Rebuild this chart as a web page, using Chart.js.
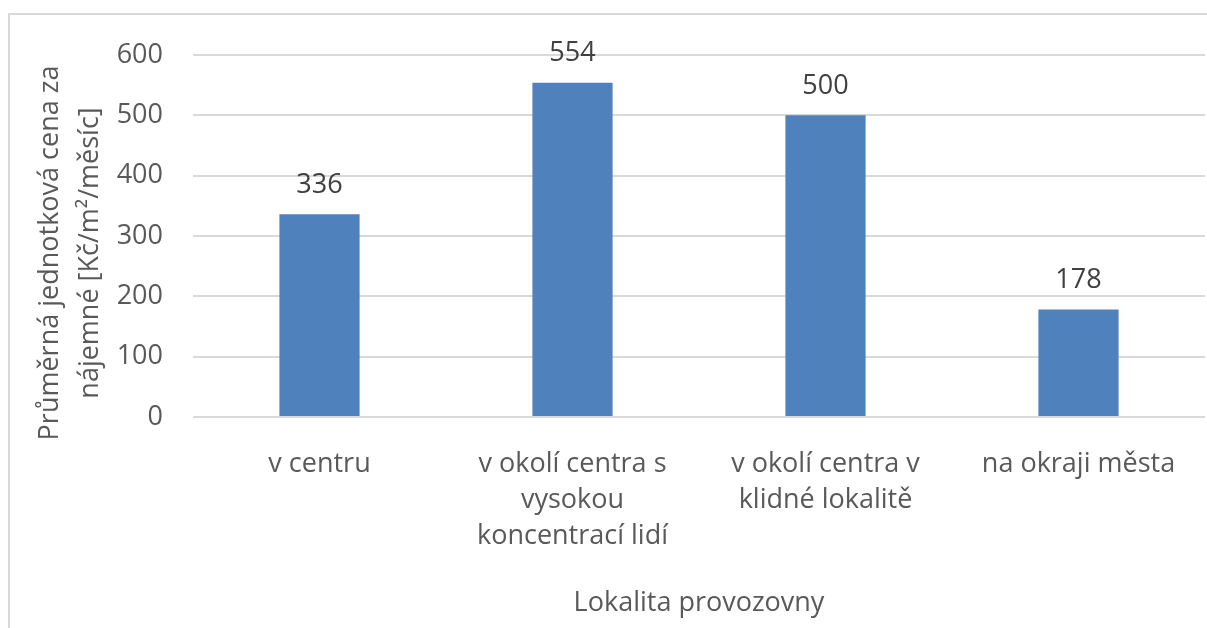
<!DOCTYPE html>
<html>
<head>
<meta charset="utf-8">
<script src="https://cdn.jsdelivr.net/npm/chart.js@4.4.0/dist/chart.umd.min.js"></script>
<style>
  html, body { margin: 0; padding: 0; background: #fff; }
  #wrap { width: 1207px; height: 628px; position: relative; }
</style>
</head>
<body>
<div id="wrap"><canvas id="chart"></canvas></div>
<script>
  const categories = [
    'v centru',
    ['v okolí centra s', 'vysokou', 'koncentrací lidí'],
    ['v okolí centra v', 'klidné lokalitě'],
    'na okraji města'
  ];
  const rentValues = [336, 554, 500, 178];
  const yTickValues = [0, 100, 200, 300, 400, 500, 600];
  const yTitle = ['Průměrná jednotková cena za', 'nájemné [Kč/m²/měsíc]'];
  const xTitle = 'Lokalita provozovny';

  const FONT = "'Open Sans', sans-serif";
  const TEXT = '#595959';

  // thin grey frame, only left/top edges show
  const framePlugin = {
    id: 'frame',
    beforeDraw(chart) {
      const c = chart.ctx;
      c.save();
      c.strokeStyle = '#d9d9d9';
      c.lineWidth = 2;
      c.strokeRect(9, 14, 1400, 1000);
      c.restore();
    }
  };

  // y title sits a bit lower than the plot centre, so draw it by hand
  const yTitlePlugin = {
    id: 'yTitle',
    afterDraw(chart) {
      const c = chart.ctx;
      const area = chart.chartArea;
      const cy = (area.top + area.bottom) / 2 + 17;
      c.save();
      c.font = '27px ' + FONT;
      c.fillStyle = TEXT;
      c.textAlign = 'center';
      c.textBaseline = 'middle';
      c.translate(50, cy);
      c.rotate(-Math.PI / 2);
      yTitle.forEach((line, i) => c.fillText(line, 0, i * 40));
      c.restore();
    }
  };

  const valueLabels = {
    id: 'valueLabels',
    afterDatasetsDraw(chart) {
      const c = chart.ctx;
      const meta = chart.getDatasetMeta(0);
      c.save();
      c.font = '27px ' + FONT;
      c.fillStyle = '#404040';
      c.textAlign = 'center';
      c.textBaseline = 'middle';
      meta.data.forEach((bar, i) => {
        c.fillText(String(rentValues[i]), bar.x, bar.y - 29);
      });
      c.restore();
    }
  };

  new Chart(document.getElementById('chart'), {
    type: 'bar',
    data: {
      labels: categories,
      datasets: [{
        data: rentValues,
        backgroundColor: '#4F81BD',
        categoryPercentage: 1,
        barPercentage: 0.317
      }]
    },
    options: {
      responsive: true,
      maintainAspectRatio: false,
      animation: false,
      layout: { padding: { top: 55, right: 2, bottom: 0, left: 0 } },
      plugins: { legend: { display: false }, tooltip: { enabled: false } },
      scales: {
        x: {
          grid: { display: false },
          border: { display: false },
          ticks: {
            color: TEXT,
            font: { family: FONT, size: 27, lineHeight: 1.34 },
            padding: 21,
            maxRotation: 0,
            autoSkip: false
          },
          title: {
            display: true,
            text: xTitle,
            color: TEXT,
            font: { family: FONT, size: 27 },
            padding: { top: 0, bottom: 8 }
          },
          afterFit(scale) { scale.height = 211; }
        },
        y: {
          min: 0,
          max: 600,
          afterBuildTicks(scale) {
            scale.ticks = yTickValues.map(v => ({ value: v }));
          },
          grid: { color: '#d9d9d9', lineWidth: 2, drawTicks: false },
          border: { display: false },
          ticks: {
            color: TEXT,
            font: { family: FONT, size: 27 },
            padding: 30
          },
          afterFit(scale) { scale.width = 193; }
        }
      }
    },
    plugins: [framePlugin, yTitlePlugin, valueLabels]
  });
</script>
</body>
</html>
